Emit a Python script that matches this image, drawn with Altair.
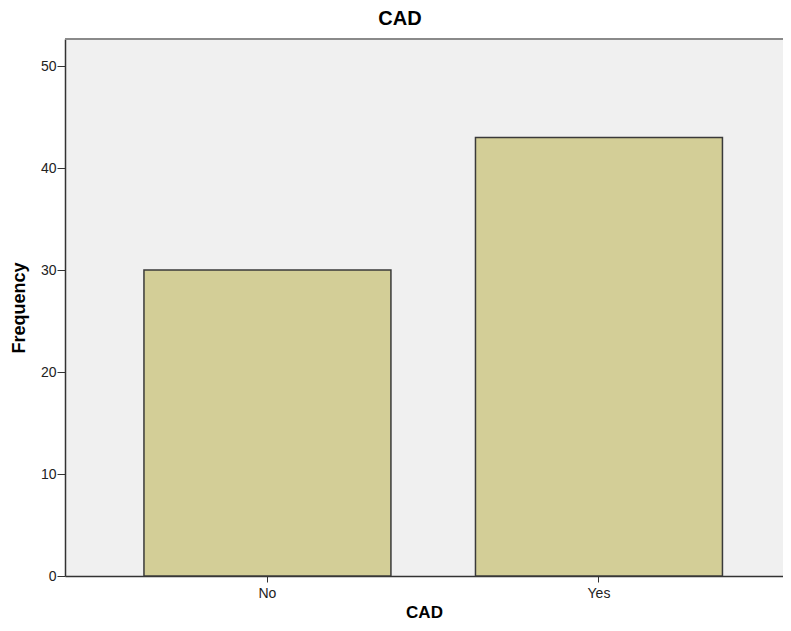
import altair as alt
import pandas as pd

categories = ["No", "Yes"]
frequencies = [30, 43]

df = pd.DataFrame({"CAD": categories, "Frequency": frequencies})

FONT = "Liberation Sans"
W, H = 718, 537

bars = alt.Chart(df).mark_bar(
    color="#D3CE97", stroke="#3a3a3a", strokeWidth=1.5
).encode(
    x=alt.X(
        "CAD:N",
        sort=categories,
        scale=alt.Scale(paddingInner=0.255, paddingOuter=0.2104, align=0.566),
        axis=alt.Axis(
            title="CAD", labelAngle=0, labelFontSize=14, labelColor="#222",
            tickSize=6, tickColor="#333", labelPadding=4,
            domainColor="#333", domainWidth=1.5,
            titleFontSize=17, titleFontWeight="bold",
            titleY=41, titleBaseline="alphabetic",
            titleColor="#000", labelFont=FONT, titleFont=FONT,
        ),
    ),
    y=alt.Y(
        "Frequency:Q",
        scale=alt.Scale(domain=[0, 52.65], nice=False, zero=True),
        axis=alt.Axis(
            title="Frequency", values=[0, 10, 20, 30, 40, 50],
            labelFontSize=14, labelColor="#222", tickSize=8, tickColor="#333",
            labelPadding=1, domainColor="#333", domainWidth=1.5, grid=False,
            titleFontSize=18, titleFontWeight="bold", titleColor="#000",
            titlePadding=12, labelFont=FONT, titleFont=FONT,
        ),
    ),
)

top_border = alt.Chart(df).mark_rule(color="#8a8a8a", strokeWidth=2).encode(
    x=alt.value(0), x2=alt.value(W), y=alt.value(0)
)

chart = alt.layer(bars, top_border).properties(
    width=W,
    height=H,
    title=alt.TitleParams(
        "CAD", fontSize=20, fontWeight="bold", font=FONT, color="#000",
        anchor="middle", dx=-24, offset=9,
    ),
    autosize=alt.AutoSizeParams(type="none"),
    padding={"left": 57, "top": 31, "right": 0, "bottom": 47},
    background="white",
).configure_view(
    fill="#F0F0F0", stroke=None
)

chart.save("out.html", embed_options={"renderer": "svg", "actions": False})
